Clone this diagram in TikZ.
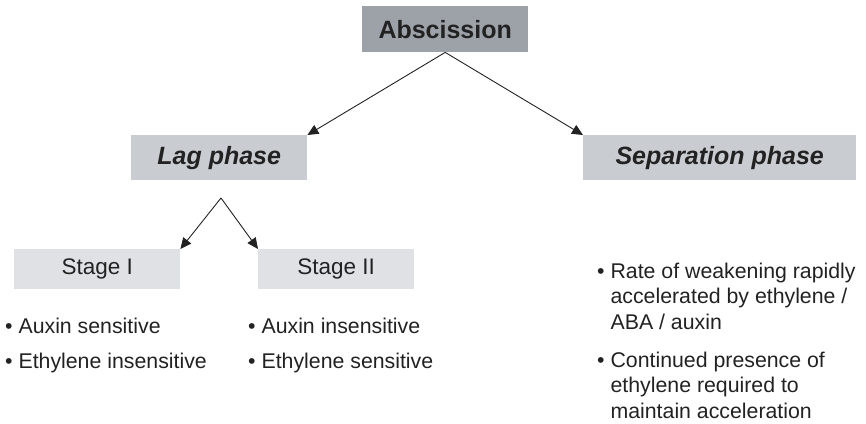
\documentclass[tikz,border=0pt]{standalone}
\usepackage{fontspec}
\setmainfont{Liberation Sans}
\usetikzlibrary{arrows.meta}
\definecolor{boxA}{HTML}{9DA2A8}
\definecolor{boxB}{HTML}{C9CCD0}
\definecolor{boxC}{HTML}{DFE1E5}
\definecolor{ink}{HTML}{222222}
\begin{document}
\begin{tikzpicture}[x=1pt,y=-1pt,
  box/.style={inner sep=0pt, anchor=north west, text=ink},
  arr/.style={-{Triangle[length=11pt,width=10pt]}, line width=0.9pt, draw=ink},
  txt/.style={anchor=west, inner sep=0pt, text=ink, font=\fontsize{21.3}{25.6}\selectfont, align=left}]
\useasboundingbox (0,0) rectangle (866,423);
% boxes
\node[box, fill=boxA, minimum width=166pt, minimum height=46pt] (abs) at (362,6) {};
\node[text=ink, font=\fontsize{25}{28}\selectfont\bfseries] at (abs.center) {Abscission};
\node[box, fill=boxB, minimum width=176pt, minimum height=45pt] (lag) at (131,135) {};
\node[text=ink, font=\fontsize{25}{28}\selectfont\bfseries\itshape] at (lag.center) {Lag phase};
\node[box, fill=boxB, minimum width=273pt, minimum height=45pt] (sep) at (583,135) {};
\node[text=ink, font=\fontsize{25}{28}\selectfont\bfseries\itshape] at (sep.center) {Separation phase};
\node[box, fill=boxC, minimum width=166pt, minimum height=40pt] (s1) at (14,249) {};
\node[text=ink, font=\fontsize{22.5}{26}\selectfont] at (s1.center) {Stage I};
\node[box, fill=boxC, minimum width=156pt, minimum height=40pt] (s2) at (258,249) {};
\node[text=ink, font=\fontsize{22.5}{26}\selectfont] at (s2.center) {Stage II};
% connectors
\coordinate (apex) at (221,198);
\draw[arr] (abs.south) -- (lag.north east);
\draw[arr] (abs.south) -- (sep.north west);
\draw[arr] (apex) -- (s1.north east);
\draw[arr] (apex) -- (s2.north west);
% bullet texts
\node[txt] (b1) at (5,326) {\textbullet\ Auxin sensitive};
\node[txt] (b2) at (5,363) {\textbullet\ Ethylene insensitive};
\node[txt] (b3) at (248,326) {\textbullet\ Auxin insensitive};
\node[txt] (b4) at (248,363) {\textbullet\ Ethylene sensitive};
\node[txt, anchor=north west] (r1) at (597,260) {\textbullet\ \begin{tabular}[t]{@{}l@{}}Rate of weakening rapidly\\accelerated by ethylene /\\ABA / auxin\end{tabular}};
\node[txt, anchor=north west] (r2) at (597,349) {\textbullet\ \begin{tabular}[t]{@{}l@{}}Continued presence of\\ethylene required to\\maintain acceleration\end{tabular}};
\end{tikzpicture}
\end{document}
